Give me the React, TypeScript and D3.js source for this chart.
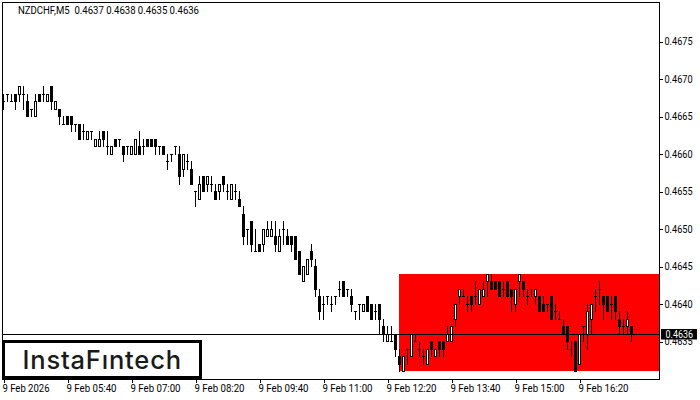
import { useEffect, useRef } from "react";
import * as d3 from "d3";

// prices are in pips above 0.4600 (the feed only has 4 decimals)
const opens = [
  67, 68, 67, 68, 68, 68, 67, 66, 65, 68,
  68, 67, 69, 66, 66, 64, 65, 65, 64, 64,
  63, 62, 63, 61, 61, 63, 61, 60, 62, 62,
  61, 61, 60, 60, 61, 61, 62, 62, 62, 61,
  61, 59, 60, 61, 60, 58, 59, 58, 55, 54,
  57, 56, 56, 55, 55, 57, 55, 54, 55, 54,
  52, 50, 51, 47, 48, 48, 49, 49, 49, 47,
  50, 49, 49, 49, 47, 43, 44, 47, 45, 41,
  40, 41, 40, 41, 42, 43, 42, 41, 39, 40,
  39, 41, 40, 39, 40, 37, 35, 35, 36, 33,
  31, 34, 33, 35, 34, 33, 32, 35, 33, 35,
  35, 35, 35, 38, 41, 41, 40, 41, 41, 40,
  41, 43, 43, 43, 43, 42, 43, 42, 40, 43,
  43, 41, 42, 41, 41, 40, 40, 41, 39, 38,
  37, 37, 34, 35, 32, 37, 36, 38, 41, 42,
  41, 41, 40, 41, 38, 37, 37, 37,
];
const highs = [
  68, 68, 68, 68, 69, 69, 68, 66, 68, 68,
  69, 68, 69, 67, 66, 65, 65, 65, 64, 64,
  64, 63, 63, 62, 63, 63, 63, 61, 62, 62,
  61, 61, 61, 62, 63, 62, 62, 62, 62, 61,
  61, 60, 60, 61, 61, 60, 60, 59, 55, 57,
  57, 57, 57, 56, 56, 57, 56, 56, 56, 55,
  53, 50, 51, 50, 48, 50, 51, 51, 51, 50,
  51, 50, 49, 49, 47, 45, 46, 48, 46, 42,
  41, 41, 41, 41, 43, 43, 42, 42, 39, 40,
  40, 41, 40, 40, 40, 38, 37, 37, 36, 34,
  33, 34, 36, 36, 35, 34, 34, 35, 34, 35,
  35, 37, 37, 40, 42, 42, 41, 41, 43, 42,
  43, 44, 44, 43, 43, 43, 43, 42, 42, 44,
  43, 42, 42, 42, 41, 41, 40, 41, 40, 39,
  38, 37, 35, 35, 36, 37, 40, 40, 42, 43,
  41, 41, 41, 41, 39, 38, 39, 37,
];
const lows = [
  66, 67, 67, 66, 67, 66, 65, 65, 65, 67,
  67, 67, 66, 66, 64, 64, 64, 63, 63, 62,
  62, 62, 62, 61, 61, 61, 60, 60, 61, 61,
  59, 60, 60, 60, 60, 60, 61, 61, 60, 60,
  60, 58, 59, 60, 56, 57, 58, 56, 53, 54,
  55, 55, 55, 54, 54, 55, 54, 54, 54, 53,
  48, 48, 47, 47, 47, 47, 49, 49, 47, 47,
  48, 48, 47, 46, 44, 43, 44, 45, 41, 38,
  38, 40, 39, 40, 41, 41, 41, 39, 38, 38,
  39, 39, 38, 38, 36, 35, 35, 35, 33, 31,
  31, 32, 33, 35, 33, 32, 32, 33, 33, 33,
  33, 35, 35, 37, 40, 41, 39, 39, 40, 40,
  41, 41, 42, 42, 41, 41, 41, 39, 39, 41,
  41, 40, 41, 40, 39, 39, 39, 38, 38, 38,
  36, 34, 33, 31, 32, 35, 34, 36, 39, 40,
  38, 39, 38, 38, 36, 36, 36, 35,
];
const closes = [
  67, 68, 67, 67, 69, 68, 65, 66, 67, 67,
  68, 68, 67, 67, 65, 64, 64, 64, 64, 62,
  63, 63, 63, 62, 62, 62, 61, 61, 61, 62,
  60, 61, 61, 62, 60, 61, 61, 61, 61, 61,
  60, 59, 60, 61, 57, 60, 59, 56, 55, 56,
  55, 57, 56, 54, 56, 56, 55, 56, 55, 53,
  49, 50, 48, 47, 47, 50, 50, 50, 48, 49,
  50, 48, 48, 46, 44, 45, 46, 46, 42, 39,
  40, 41, 40, 41, 42, 41, 42, 40, 39, 40,
  40, 39, 38, 39, 38, 36, 36, 35, 34, 32,
  33, 34, 36, 35, 34, 33, 34, 34, 34, 34,
  34, 36, 37, 40, 42, 41, 40, 40, 41, 42,
  42, 44, 42, 42, 41, 42, 41, 41, 42, 44,
  42, 41, 42, 42, 39, 39, 40, 38, 39, 38,
  36, 35, 34, 31, 36, 37, 39, 40, 41, 42,
  40, 39, 40, 39, 37, 37, 38, 36,
];

const timeIndexes = [0, 16, 32, 48, 64, 80, 96, 112, 128, 144];
const timeLabels = [
  "9 Feb 2026", "9 Feb 05:40", "9 Feb 07:00", "9 Feb 08:20", "9 Feb 09:40",
  "9 Feb 11:00", "9 Feb 12:20", "9 Feb 13:40", "9 Feb 15:00", "9 Feb 16:20",
];
const priceTicks = [35, 40, 45, 50, 55, 60, 65, 70, 75];
const zoneTop = 44;
const zoneBottom = 31;
const zoneStart = 99;
const lastPrice = 36;

const FONT = "Roboto, sans-serif";
const FONT_SIZE = 10.5;

export default function App() {
  const svgRef = useRef<SVGSVGElement>(null);

  useEffect(() => {
    if (!svgRef.current) return;
    const svg = d3.select(svgRef.current);
    svg.selectAll("*").remove();

    const x = d3.scaleLinear().domain([0, opens.length - 1]).range([3, 631]);
    const y = d3.scaleLinear().domain([75, 35]).range([41, 341]);
    const py = (p: number) => Math.round(y(p) + 0.01);

    const frame = { left: 2, right: 659, top: 2, bottom: 379 };

    // pattern zone, sits under the candles
    svg.append("rect")
      .attr("x", x(zoneStart))
      .attr("y", py(zoneTop))
      .attr("width", frame.right - x(zoneStart))
      .attr("height", py(zoneBottom) - py(zoneTop))
      .attr("fill", "#ff0000");

    const candles = svg.append("g").attr("shape-rendering", "crispEdges");
    opens.forEach((o, i) => {
      const c = closes[i];
      const cx = x(i);
      candles.append("rect")
        .attr("x", cx).attr("y", py(highs[i]))
        .attr("width", 1).attr("height", py(lows[i]) - py(highs[i]) + 1)
        .attr("fill", "#000");
      const top = py(Math.max(o, c));
      const bottom = py(Math.min(o, c));
      candles.append("rect")
        .attr("x", cx - 1).attr("y", top)
        .attr("width", 3).attr("height", bottom - top + 1)
        .attr("fill", "#000");
      if (c > o) {
        candles.append("rect")
          .attr("x", cx).attr("y", top + 1)
          .attr("width", 1).attr("height", bottom - top - 1)
          .attr("fill", "#fff");
      }
    });

    // last price line
    svg.append("rect")
      .attr("x", frame.left).attr("y", py(lastPrice))
      .attr("width", frame.right - frame.left).attr("height", 1)
      .attr("fill", "#000").attr("shape-rendering", "crispEdges");

    // frame
    svg.append("rect")
      .attr("x", frame.left + 0.5).attr("y", frame.top + 0.5)
      .attr("width", frame.right - frame.left).attr("height", frame.bottom - frame.top)
      .attr("fill", "none").attr("stroke", "#000").attr("shape-rendering", "crispEdges");

    // price axis
    const yAxis = svg.append("g")
      .attr("transform", `translate(${frame.right + 0.5},0.5)`)
      .call(d3.axisRight(y).tickValues(priceTicks).tickSize(3).tickPadding(2)
        .tickFormat((d) => (0.46 + (d as number) / 10000).toFixed(4)));
    yAxis.select(".domain").remove();
    yAxis.selectAll("line").attr("stroke", "#000").attr("shape-rendering", "crispEdges");
    yAxis.selectAll("text")
      .attr("font-family", FONT).attr("font-size", FONT_SIZE).attr("fill", "#000")
      .attr("textLength", 28).attr("lengthAdjust", "spacingAndGlyphs");

    // time axis
    const xAxis = svg.append("g")
      .attr("transform", `translate(0.5,${frame.bottom + 0.5})`)
      .call(d3.axisBottom(x).tickValues(timeIndexes).tickSize(3).tickPadding(2)
        .tickFormat((_, i) => timeLabels[i]));
    xAxis.select(".domain").remove();
    xAxis.selectAll("line").attr("stroke", "#000").attr("shape-rendering", "crispEdges");
    xAxis.selectAll("text")
      .attr("font-family", FONT).attr("font-size", FONT_SIZE).attr("fill", "#000")
      .attr("text-anchor", "start").attr("dx", -1.5)
      .attr("textLength", (_, i) => (i === 0 ? 47 : 50))
      .attr("lengthAdjust", "spacingAndGlyphs");

    // current price tag
    svg.append("rect")
      .attr("x", 661).attr("y", 329).attr("width", 36).attr("height", 10.5)
      .attr("fill", "#000");
    svg.append("text")
      .attr("x", 665.5).attr("y", 338)
      .attr("font-family", FONT).attr("font-size", FONT_SIZE).attr("fill", "#fff")
      .attr("textLength", 27.5).attr("lengthAdjust", "spacingAndGlyphs")
      .text((0.46 + lastPrice / 10000).toFixed(4));

    // header
    svg.append("text")
      .attr("x", 18).attr("y", 14)
      .attr("font-family", FONT).attr("font-size", FONT_SIZE).attr("fill", "#000")
      .attr("xml:space", "preserve")
      .attr("textLength", 181).attr("lengthAdjust", "spacingAndGlyphs")
      .text("NZDCHF,M5  0.4637 0.4638 0.4635 0.4636");

    // logo
    svg.append("rect")
      .attr("x", 3.5).attr("y", 341.5).attr("width", 197).attr("height", 36)
      .attr("fill", "#fff").attr("stroke", "#000").attr("stroke-width", 3);
    svg.append("text")
      .attr("x", 22.5).attr("y", 368.5)
      .attr("font-family", "Inter, sans-serif").attr("font-size", 25.5).attr("font-weight", 500)
      .attr("fill", "#1a1a1a")
      .attr("textLength", 158.5)
      .text("InstaFıntech");
  }, []);

  return (
    <svg
      ref={svgRef}
      width={700}
      height={400}
      style={{ position: "absolute", left: 0, top: 0, background: "#fff" }}
    />
  );
}
